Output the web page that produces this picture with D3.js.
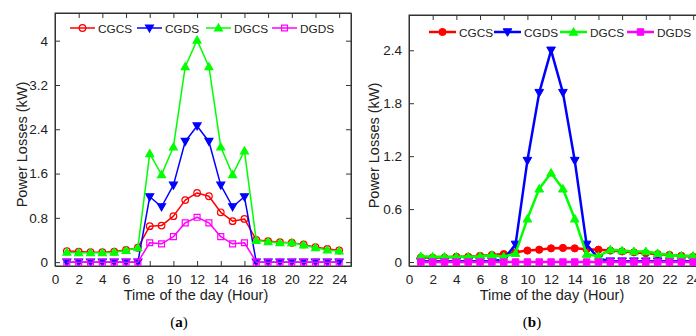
<!DOCTYPE html>
<html>
<head>
<meta charset="utf-8">
<script src="https://cdn.jsdelivr.net/npm/d3@7"></script>
<style>
  body { margin: 0; background: #fff; }
  svg { display: block; font-family: "Liberation Sans", Arial, sans-serif; }
</style>
</head>
<body>
<svg id="chart" width="696" height="336"></svg>
<script>
const hours = d3.range(1, 25);
const seriesNames = ['CGCS', 'CGDS', 'DGCS', 'DGDS'];
const seriesColors = ['#ff0000', '#0000ff', '#00ff00', '#ff00ff'];
const seriesShapes = ['circle', 'triangleDown', 'triangleUp', 'square'];

// panel (a)
const cgcsA = [0.20, 0.19, 0.18, 0.18, 0.19, 0.22, 0.26, 0.65, 0.66, 0.83, 1.12, 1.25,
  1.19, 0.90, 0.74, 0.78, 0.40, 0.38, 0.36, 0.35, 0.32, 0.27, 0.24, 0.21];
const cgdsA = [0, 0, 0, 0, 0, 0, 0, 1.18, 1.00, 1.39, 2.18, 2.46,
  2.18, 1.39, 1.00, 1.18, 0, 0, 0, 0, 0, 0, 0, 0];
const dgcsA = [0.18, 0.17, 0.17, 0.17, 0.18, 0.21, 0.26, 1.96, 1.58, 2.08, 3.53, 4.01,
  3.53, 2.08, 1.58, 2.01, 0.39, 0.37, 0.35, 0.35, 0.31, 0.26, 0.22, 0.20];
const dgdsA = [0, 0, 0, 0, 0, 0, 0, 0.35, 0.33, 0.46, 0.71, 0.81,
  0.71, 0.46, 0.33, 0.35, 0, 0, 0, 0, 0, 0, 0, 0];

// panel (b)
const cgcsB = [0.05, 0.05, 0.05, 0.06, 0.06, 0.07, 0.08, 0.09, 0.11, 0.13, 0.14, 0.155,
  0.16, 0.155, 0.145, 0.14, 0.13, 0.12, 0.11, 0.10, 0.09, 0.08, 0.07, 0.06];
const cgdsB = [0.01, 0.01, 0.01, 0.01, 0.01, 0.01, 0.01, 0.03, 0.20, 1.15, 1.92, 2.40,
  1.92, 1.15, 0.20, 0.04, 0.01, 0.01, 0.01, 0.01, 0.01, 0.01, 0.01, 0.01];
const dgcsB = [0.065, 0.06, 0.06, 0.06, 0.06, 0.065, 0.08, 0.06, 0.10, 0.49, 0.83, 1.01,
  0.83, 0.49, 0.09, 0.065, 0.14, 0.13, 0.12, 0.12, 0.10, 0.08, 0.07, 0.07];
const dgdsB = [0, 0, 0, 0, 0, 0, 0, 0, 0, 0, 0, 0,
  0, 0, 0, 0, 0, 0, 0, 0, 0, 0, 0, 0];

const xTicks = d3.range(0, 25, 2);
const yTicksA = [0, 0.8, 1.6, 2.4, 3.2, 4];
const yTicksB = [0, 0.6, 1.2, 1.8, 2.4];

const svg = d3.select('#chart');

function drawPanel(opt) {
  const x = d3.scaleLinear().domain([0, 25]).range([opt.left, opt.right]);
  const y = d3.scaleLinear().domain(opt.yDomain).range([opt.bottom, opt.top]);
  const g = svg.append('g');

  // clip to the visible part of the frame
  const clipId = 'clip-' + opt.tag;
  g.append('clipPath').attr('id', clipId).append('rect')
    .attr('x', opt.left).attr('y', opt.top)
    .attr('width', opt.right - opt.left).attr('height', opt.bottom - opt.top);

  // axes with inward ticks on all sides
  const fmt = d => String(d);
  g.append('g').attr('transform', `translate(0,${opt.bottom})`)
    .call(d3.axisBottom(x).tickValues(xTicks).tickSizeInner(-5).tickSizeOuter(0).tickPadding(8).tickFormat(fmt));
  g.append('g').attr('transform', `translate(0,${opt.top})`)
    .call(d3.axisTop(x).tickValues(xTicks).tickSizeInner(-5).tickSizeOuter(0).tickFormat(''));
  g.append('g').attr('transform', `translate(${opt.left},0)`)
    .call(d3.axisLeft(y).tickValues(opt.yTicks).tickSizeInner(-5).tickSizeOuter(0).tickPadding(7).tickFormat(fmt));
  g.append('g').attr('transform', `translate(${opt.right},0)`)
    .call(d3.axisRight(y).tickValues(opt.yTicks).tickSizeInner(-5).tickSizeOuter(0).tickFormat(''));
  g.selectAll('.domain').attr('stroke', '#333');
  g.selectAll('.tick line').attr('stroke', '#333');
  g.selectAll('.tick text').attr('font-size', 13.5).attr('fill', '#222')
    .attr('font-family', '"Liberation Sans", Arial, sans-serif');

  g.append('rect')
    .attr('x', opt.left).attr('y', opt.top)
    .attr('width', opt.right - opt.left).attr('height', opt.bottom - opt.top)
    .attr('fill', 'none').attr('stroke', '#333').attr('stroke-width', 1);

  const line = d3.line().x((d, i) => x(hours[i])).y(d => y(d));
  const plot = g.append('g').attr('clip-path', `url(#${clipId})`);

  opt.series.forEach((vals, k) => {
    const color = seriesColors[k];
    plot.append('path').datum(vals)
      .attr('d', line).attr('fill', 'none')
      .attr('stroke', color).attr('stroke-width', opt.lineWidth)
      .attr('stroke-linejoin', 'round');
    plot.selectAll(null).data(vals).enter()
      .append('path')
      .attr('transform', (d, i) => `translate(${x(hours[i])},${y(d)})`)
      .attr('d', markerPath(seriesShapes[k], opt.markerSize))
      .attr('fill', opt.filled || seriesShapes[k].startsWith('triangle') ? color : 'none')
      .attr('stroke', color).attr('stroke-width', opt.markerStroke);
  });

  // legend
  opt.legend.forEach((lx, k) => {
    const color = seriesColors[k];
    const lg = svg.append('g');
    lg.append('line').attr('x1', lx).attr('x2', lx + opt.legendLen)
      .attr('y1', opt.legendY).attr('y2', opt.legendY)
      .attr('stroke', color).attr('stroke-width', opt.lineWidth);
    lg.append('path')
      .attr('transform', `translate(${lx + opt.legendLen / 2},${opt.legendY})`)
      .attr('d', markerPath(seriesShapes[k], opt.markerSize))
      .attr('fill', opt.filled || seriesShapes[k].startsWith('triangle') ? color : 'none')
      .attr('stroke', color).attr('stroke-width', opt.markerStroke);
    lg.append('text').attr('x', lx + opt.legendLen + 3).attr('y', opt.legendY + 4.5)
      .attr('font-size', 11.8).attr('fill', '#222').text(seriesNames[k]);
  });

  // titles
  svg.append('text')
    .attr('x', opt.xTitleX).attr('y', 300)
    .attr('text-anchor', 'middle').attr('font-size', 14.5).attr('fill', '#222')
    .text('Time of the day (Hour)');
  svg.append('text')
    .attr('transform', `translate(${opt.yTitleX},${(opt.top + opt.bottom) / 2 + 5}) rotate(-90)`)
    .attr('text-anchor', 'middle').attr('font-size', 14.5).attr('fill', '#222')
    .text('Power Losses (kW)');
  const cap = svg.append('text')
    .attr('x', opt.capX).attr('y', 327)
    .attr('text-anchor', 'middle').attr('font-size', 15)
    .attr('font-family', '"Liberation Serif", "Times New Roman", serif').attr('fill', '#000');
  cap.append('tspan').text('(');
  cap.append('tspan').attr('font-weight', 'bold').text(opt.tag);
  cap.append('tspan').text(')');
}

function markerPath(shape, s) {
  if (shape === 'circle') {
    return `M${s},0A${s},${s} 0 1,1 ${-s},0A${s},${s} 0 1,1 ${s},0Z`;
  }
  if (shape === 'square') {
    const h = s * 0.9;
    return `M${-h},${-h}H${h}V${h}H${-h}Z`;
  }
  const t = s * 1.2;
  if (shape === 'triangleUp') {
    return `M0,${-t}L${t},${t * 0.75}L${-t},${t * 0.75}Z`;
  }
  return `M0,${t}L${t},${-t * 0.75}L${-t},${-t * 0.75}Z`;
}

drawPanel({
  tag: 'a',
  left: 55, right: 351, top: 13, bottom: 266,
  yDomain: [-0.07, 4.5], yTicks: yTicksA,
  series: [cgcsA, cgdsA, dgcsA, dgdsA],
  lineWidth: 1.5, markerSize: 3.3, markerStroke: 1.2, filled: false,
  legend: [70, 137, 206, 272], legendLen: 25, legendY: 28,
  xTitleX: 196, yTitleX: 27, capX: 179
});

drawPanel({
  tag: 'b',
  left: 409, right: 705, top: 15, bottom: 266,
  yDomain: [-0.045, 2.8], yTicks: yTicksB,
  series: [cgcsB, cgdsB, dgcsB, dgdsB],
  lineWidth: 2.5, markerSize: 3.6, markerStroke: 1, filled: true,
  legend: [429, 494, 560, 627], legendLen: 27, legendY: 32,
  xTitleX: 552, yTitleX: 379, capX: 532
});
</script>
</body>
</html>
